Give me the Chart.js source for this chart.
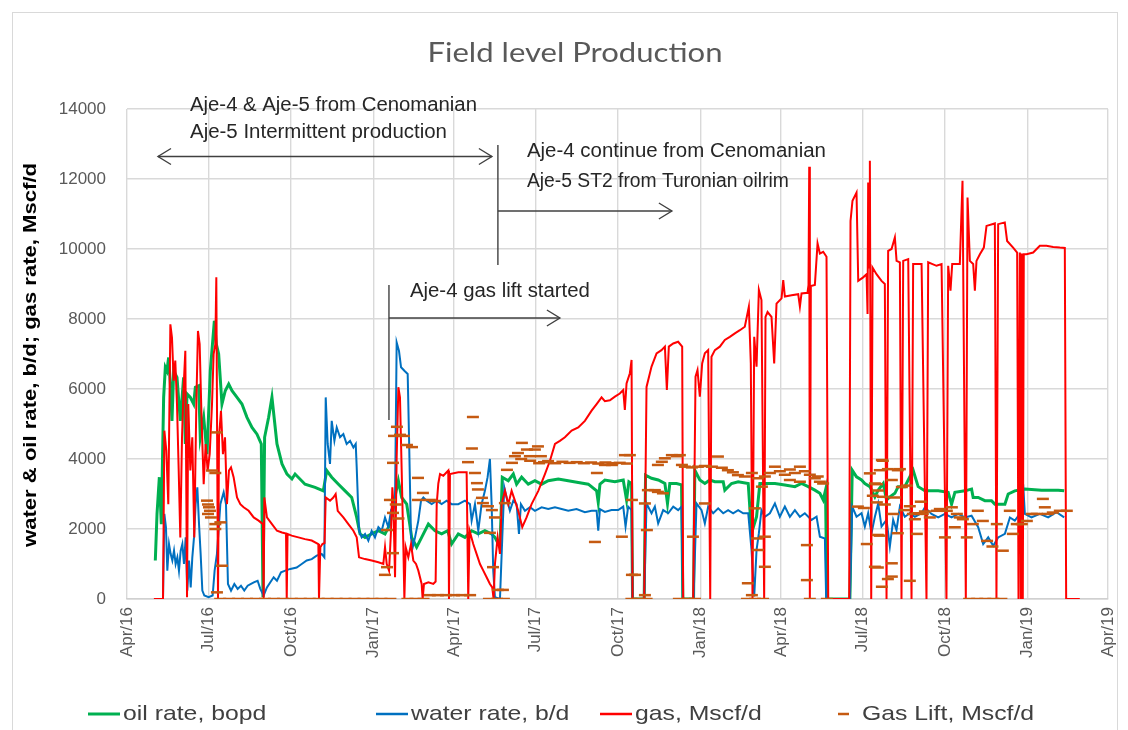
<!DOCTYPE html>
<html>
<head>
<meta charset="utf-8">
<title>Field level Production</title>
<script src="https://cdn.jsdelivr.net/npm/chart.js@4.4.1/dist/chart.umd.min.js"></script>
<style>
  html, body { margin: 0; padding: 0; background: #ffffff; }
  #wrap { position: relative; width: 1128px; height: 730px; }
</style>
</head>
<body>
<div id="wrap"><canvas id="prod" width="1128" height="730"></canvas></div>
<script>
// Days are counted from 1 Apr 2016 (day 0).
const tickDays   = [0, 91, 183, 275, 365, 456, 548, 640, 730, 821, 913, 1005, 1095];
const tickLabels = ['Apr/16', 'Jul/16', 'Oct/16', 'Jan/17', 'Apr/17', 'Jul/17', 'Oct/17',
                    'Jan/18', 'Apr/18', 'Jul/18', 'Oct/18', 'Jan/19', 'Apr/19'];
const yTicks = [0, 2000, 4000, 6000, 8000, 10000, 12000, 14000];

// Oil rate, bopd
const oilDays = [
  31.6, 33.5, 36.1, 38.3, 40.9, 42.8, 44.6, 46.5, 48.4, 50.2, 52.1, 55.8, 59.5, 63.2, 65.1, 67.0,
  70.7, 74.4, 76.3, 80.0, 81.8, 85.6, 89.3, 93.0, 97.5, 99.7, 102.3, 106.0, 109.7, 113.5, 117.2,
  122.8, 128.3, 133.9, 139.5, 145.1, 149.9, 151.8, 153.6, 158.1, 161.8, 167.4, 173.0, 178.6, 184.1,
  187.6, 198.7, 209.9, 219.2, 222.9, 228.5, 236.0, 243.4, 250.8, 256.4, 260.1, 265.7, 273.1, 280.6,
  288.0, 293.6, 297.3, 302.9, 306.6, 312.2, 317.8, 323.3, 328.9, 336.4, 343.8, 351.2, 358.0,
  362.3, 369.8, 377.2, 384.7, 392.1, 399.5, 407.0, 410.7, 416.3, 418.9, 425.6, 431.2, 434.9, 440.5,
  447.9, 455.3, 462.8, 470.2, 481.4, 492.5, 503.7, 514.9, 524.2, 526.0, 527.9,
  533.4, 544.6, 553.9, 557.6, 560.2, 563.2, 564.3, 577.3, 578.8, 585.5, 593.0, 600.4, 603.3, 605.9,
  613.4, 619.0, 620.4, 632.4, 633.8, 639.4, 645.0, 650.6, 656.2, 665.5, 667.3, 674.8, 682.2, 693.4,
  697.1, 702.7, 706.4, 712.0, 723.2, 734.3, 745.5, 752.9, 760.4, 767.8, 773.4, 777.1, 779.7, 781.2,
  806.9, 809.5, 814.3, 819.9, 823.6, 829.2, 834.8, 838.5, 844.1, 847.8, 851.5, 857.1, 860.8, 868.2,
  877.5, 883.1, 890.6, 905.5, 916.6, 920.4, 924.1, 935.2, 942.7, 944.5, 950.1, 957.6, 965.0, 968.7,
  979.9, 983.6, 991.0, 1002.2, 1020.8, 1039.4, 1046.1
];
const oilRate = [
  1100, 2430, 3480, 2140, 5760, 6620, 6520, 6900, 6140, 5090, 6520, 6330, 5090, 6330, 4430, 5860,
  5760, 5570, 6050, 6090, 4620, 5190, 4140, 6520, 7950, 7280, 7000, 5570, 5950, 6140, 5950,
  5760, 5570, 5190, 4900, 4710, 4430, 50, 4620, 5190, 5760, 4430, 3860, 3570, 3430,
  3570, 3280, 3190, 3090, 3670, 3480, 3280, 3090, 2900, 2330, 1860, 1760, 1860, 1950,
  1860, 2140, 2710, 3380, 2900, 2710, 1760, 1480, 1760, 2140, 1950, 1860, 1950,
  1570, 1860, 1760, 1950, 1860, 1950, 1860, 1760, 1480, 3480, 3380, 3570, 3280, 3480,
  3280, 3380, 3280, 3380, 3430, 3380, 3330, 3280, 3090, 2760, 3280,
  3400, 3350, 3400, 2830, 3350, 3300, 0, 0, 3540, 3450, 3400, 3300, 2730, 3300,
  3300, 3260, 0, 0, 3680, 3400, 3300, 3400, 3350, 3350, 3110, 3300, 3350, 3300,
  1880, 2350, 3300, 3300, 3300, 3260, 3210, 3300, 3210, 3110, 3020, 2830, 3110, 0,
  0, 3680, 3490, 3400, 3300, 3210, 2920, 3110, 3300, 2830, 2920, 3020, 3210, 3210,
  3680, 3210, 3090, 3090, 3050, 2710, 3050, 3090, 3140, 2900, 2900, 2810, 2810, 2710,
  2710, 3000, 3090, 3140, 3110, 3110, 3090
];

// Water rate, b/d
const waterDays = [
  40.2, 41.7, 43.5, 45.0, 46.9, 48.7, 50.6, 52.5, 54.3, 56.2, 58.0, 59.9, 61.8, 63.6, 65.5, 67.3,
  69.2, 71.1, 72.9, 74.8, 76.6, 78.5, 80.4, 82.2, 84.1, 86.3, 91.1, 95.6, 97.8, 100.4, 104.2, 107.9,
  110.5, 112.7, 116.1, 119.8, 123.5, 127.2, 130.9, 134.7, 138.4, 142.1, 145.8, 148.8, 152.5, 156.2,
  160.0, 163.7, 167.4, 171.9, 176.7, 182.3, 189.4, 195.0, 200.6, 206.2, 211.7, 217.3, 220.3, 221.8,
  224.0, 226.6, 228.5, 231.5, 234.1, 237.8, 241.5, 245.2, 249.0, 252.7, 255.3, 256.4, 259.0, 262.0,
  265.7, 269.4, 273.1, 276.8, 280.6, 284.3, 288.0, 291.7, 294.7, 297.3, 299.2, 301.0, 303.6, 305.9,
  309.6, 313.3, 314.8, 317.0, 318.9, 321.5, 325.2, 328.2, 330.8, 334.5, 340.1, 345.7, 351.2, 356.8,
  362.3, 369.8, 377.2, 382.8, 384.7, 388.4, 392.1, 395.8, 399.5, 402.5, 405.1, 407.0, 408.8, 410.7,
  416.3, 418.9, 421.1, 423.7, 427.4, 431.2, 434.9, 437.5, 439.7, 444.2, 449.8, 455.3, 462.8, 470.2,
  477.7, 485.1, 492.5, 501.8, 511.1, 518.6, 524.2, 526.0, 527.9,
  533.4, 540.8, 548.3, 553.9, 556.5, 559.4, 563.2, 564.3, 577.3, 579.9, 585.5, 589.2, 592.9, 598.5,
  604.1, 609.7, 615.2, 619.0, 620.4, 632.4, 635.7, 641.3, 645.0, 648.7, 654.3, 659.9, 665.5, 671.0,
  676.6, 682.2, 687.8, 693.4, 697.1, 700.1, 702.7, 705.3, 708.2, 712.0, 717.6, 723.2, 728.7, 734.3,
  739.9, 745.5, 751.1, 756.6, 764.1, 769.7, 773.4, 779.0, 780.4, 806.9, 809.5, 814.3, 819.9, 823.6,
  827.3, 831.0, 834.8, 838.5, 842.2, 847.8, 851.5, 855.2, 858.9, 862.7, 868.2, 873.8, 879.4, 886.8,
  890.6, 898.0, 905.5, 912.9, 920.4, 927.8, 935.2, 942.7, 950.1, 955.7, 961.3, 966.9, 972.4, 979.9,
  985.5, 991.0, 996.6, 1000.3, 1002.2, 1009.6, 1018.9, 1028.2, 1037.5, 1046.1
];
const waterRate = [
  50, 2430, 2050, 810, 1570, 1290, 1100, 1380, 1000, 1190, 810, 1380, 1570, 1000, 1760, 240,
  1100, 330, 1190, 1760, 2710, 3190, 2140, 1290, 240, 100, 50, 100, 810, 1290, 2710, 3050,
  2710, 430, 240, 430, 290, 380, 240, 380, 430, 480, 520, 290, 100, 330,
  480, 620, 520, 760, 810, 860, 900, 1000, 1100, 1140, 1240, 1290, 1190, 5760,
  4430, 3860, 5090, 4520, 4900, 4620, 4710, 4430, 4520, 4330, 4430, 3760, 1950, 1760,
  1860, 1670, 1950, 1760, 2050, 1950, 2330, 2050, 2520, 2430, 2900, 7330, 7090, 6620,
  6520, 6430, 4620, 1760, 1480, 1760, 2240, 2810, 2900, 2810, 2710, 2810, 2710, 2810,
  2710, 2710, 2810, 2710, 2240, 2710, 1950, 2710, 3090, 3480, 4000, 2710, 810, 50,
  0, 1760, 3190, 2900, 2520, 2810, 2710, 1860, 2710, 2520, 2620, 2520, 2620, 2570,
  2620, 2570, 2520, 2570, 2480, 2520, 2520, 1950, 2570,
  2490, 2540, 2540, 2640, 2070, 2640, 2540, 0, 0, 2730, 2450, 2640, 2160, 2540,
  2450, 2640, 2540, 2640, 0, 0, 2730, 2540, 2160, 2640, 2450, 2590, 2450, 2540,
  2450, 2540, 2450, 2450, 1400, 70, 1400, 1880, 2540, 2350, 2450, 2730, 2350, 2640,
  2350, 2540, 2350, 2450, 2260, 2350, 1780, 1730, 0, 0, 2640, 2350, 2450, 2070,
  2450, 1880, 2350, 2730, 2070, 2260, 1500, 2260, 1970, 2640, 2350, 2450, 2350, 2450,
  2620, 2430, 2330, 2430, 2330, 2430, 2330, 2380, 2050, 1570, 1760, 1520, 1760, 1860,
  2330, 2240, 2430, 3280, 2430, 2330, 2430, 2330, 2480, 2330
];

// Gas, Mscf/d
const gasDays = [
  30.0, 40.2, 41.7, 43.9, 46.1, 48.4, 50.2, 52.1, 53.9, 55.8, 57.7, 59.5, 61.4, 63.2, 65.1, 67.0,
  68.4, 70.7, 72.9, 75.1, 77.4, 79.2, 81.1, 83.3, 85.6, 87.8, 90.0, 92.3, 94.9, 96.7, 98.6, 99.7,
  100.8, 101.6, 102.7, 104.9, 107.1, 109.4, 111.6, 113.8, 116.1, 119.0, 122.8, 126.5, 130.2, 135.8,
  141.4, 146.9, 151.8, 152.5, 153.3, 156.2, 161.8, 167.4, 173.0, 177.5, 178.3, 179.2, 183.8, 191.3,
  198.7, 206.2, 213.6, 214.3, 215.8, 218.1, 220.5, 221.8, 226.6, 230.3, 232.9, 235.2, 241.5, 247.1,
  252.7, 256.4, 259.0, 265.7, 273.1, 280.6, 286.1, 288.0, 289.9, 292.5, 294.7, 296.2, 297.3, 299.2,
  301.0, 302.9, 304.7, 306.6, 308.5, 309.6, 311.1, 314.0, 317.0, 319.6, 322.6, 325.2, 328.9, 330.0,
  331.5, 336.4, 341.9, 344.5, 345.7, 347.5, 349.4, 353.1, 358.6, 359.4, 360.5, 369.8, 379.1, 380.9,
  382.4, 386.5, 390.2, 394.0, 397.7, 401.4, 405.1, 407.7, 409.2, 410.7, 413.7, 416.3, 418.1, 421.9,
  425.6, 429.3, 433.0, 436.7, 441.2, 446.0, 451.6, 459.1, 466.5, 472.1, 477.7, 483.2, 488.8, 496.3,
  503.7, 511.1, 518.6, 524.2, 529.7, 533.4, 539.0, 544.6, 550.1, 553.9, 555.7, 557.6, 561.3, 563.2,
  564.3, 577.3, 579.9, 585.5, 591.1, 596.6, 600.4, 602.6, 604.8, 609.7, 615.2, 619.7, 620.8, 632.0,
  634.6, 636.8, 639.4, 642.0, 645.0, 648.7, 651.0, 652.4, 656.2, 661.7, 667.3, 672.9, 678.5, 684.1,
  689.6, 694.1, 696.3, 698.2, 700.1, 702.7, 705.3, 708.2, 711.2, 712.7, 715.0, 719.4, 722.4, 725.0,
  730.6, 732.5, 734.3, 741.8, 749.2, 751.1, 752.9, 759.6, 760.7, 761.5, 762.2, 763.3, 767.8, 770.8,
  773.4, 777.1, 780.8, 782.7, 806.1, 807.6, 809.8, 814.3, 816.2, 821.7, 825.5, 826.6, 827.3, 828.4,
  829.2, 830.7, 832.2, 836.6, 842.2, 845.9, 847.8, 849.6, 853.4, 857.1, 859.0, 862.7, 864.5, 866.4,
  872.0, 875.7, 877.5, 886.9, 892.4, 894.3, 903.6, 909.2, 914.7, 916.6, 919.2, 921.1, 929.6, 932.6,
  936.3, 938.2, 940.8, 944.5, 946.4, 948.2, 952.0, 956.4, 959.4, 968.7, 970.5, 972.4, 979.8, 982.4,
  989.1, 993.6, 995.1, 996.6, 997.7, 998.8, 999.9, 1001.0, 1004.0, 1011.5, 1018.9, 1026.3, 1033.8,
  1041.2, 1046.8, 1048.3, 1063.5
];
const gasRate = [
  0, 0, 4810, 4240, 2710, 7850, 7470, 6240, 6810, 5570, 3670, 1760, 4620, 6050, 7090, 50,
  5570, 3670, 4620, 1760, 5570, 7660, 7280, 5090, 3280, 4430, 3670, 4140, 5570, 7000, 7280, 9190,
  3670, 0, 4620, 5380, 4140, 4620, 2710, 3670, 3760, 3480, 2900, 2710, 2620, 2520,
  2330, 2240, 2140, 0, 2900, 2330, 2140, 1950, 1900, 1870, 0, 1860, 1810, 1760,
  1710, 1670, 1570, 0, 1480, 1570, 1600, 2900, 2810, 2900, 3000, 2520, 2330, 2140,
  1950, 1760, 1190, 1140, 1100, 1050, 1000, 1480, 1000, 810, 1950, 3190, 2710, 620,
  4050, 6050, 5760, 3670, 1480, 0, 1480, 1190, 1570, 1100, 1000, 810, 430, 0,
  430, 480, 430, 500, 2710, 3300, 3570, 3520, 3670, 0, 3570, 3620, 3620, 0,
  1950, 1570, 1290, 1000, 810, 620, 430, 330, 0, 1000, 1760, 1290, 2710, 3090,
  2710, 3090, 2810, 2520, 2050, 2330, 2710, 3090, 3570, 3950, 4430, 4520, 4620, 4810,
  4900, 5090, 5380, 5570, 5760, 5650, 5680, 5780, 5870, 5970, 5400, 6160, 6450, 6830,
  0, 0, 6060, 6640, 7020, 7110, 7210, 5970, 7210, 7300, 7350, 7210, 0, 0,
  6350, 6540, 5780, 6730, 7020, 7110, 0, 6920, 7110, 7210, 7400, 7490, 7590, 7680,
  7780, 8350, 6730, 0, 7490, 6640, 8830, 8540, 0, 8060, 8200, 8060, 6730, 8440,
  8590, 9110, 8640, 8680, 8710, 8350, 8730, 8750, 8970, 12350, 0, 8940, 8970, 10160,
  9870, 9920, 9780, 0, 0, 10800, 11380, 11610, 9090, 9190, 9280, 8140, 11900, 9470,
  12520, 0, 9470, 9280, 9090, 9000, 0, 9950, 10000, 10330, 9660, 9620, 0, 9660,
  9710, 0, 9570, 9570, 0, 9620, 9520, 9570, 0, 9520, 8810, 9570, 9570, 11950,
  0, 11470, 9660, 9570, 8810, 9660, 9850, 10040, 10660, 10730, 0, 10710, 10760, 10230,
  10040, 9900, 0, 9900, 0, 9870, 0, 9850, 9850, 9900, 10090, 10090, 10060,
  10040, 10030, 0, 0
];

// Gas lift, Mscf/d (individual daily readings)
const liftDays = [
  89.3, 90.4, 91.5, 92.6, 90.4, 93.7, 94.9, 98.6, 100.4, 98.6, 104.2, 98.6, 106.0, 100.4,
  104, 114, 124, 134, 144, 154, 164, 174, 184, 194, 204, 214, 224, 234, 244, 254, 264, 274, 284, 294,
  301.3, 304.7, 298.0, 309.1, 312.5, 318.1, 296.9, 293.5, 300.0, 296.9, 303.0, 290.2, 296.9, 290.2,
  287.9, 324.8, 324.8, 330.3, 338.1, 343.7,
  313, 322, 331, 338, 347, 356, 365, 374, 383,
  380.6, 385.0, 386.1, 388.4, 390.6, 391.7, 396.2, 397.3, 402.9, 407.3, 410.7, 405.1, 408.5, 414.0,
  419.6, 404.0, 413.0, 420.7, 421.8, 424.1, 429.7, 433.0, 436.4, 440.8, 446.4, 449.7, 455.3, 458.7,
  462.0, 465.4, 470, 478, 486, 494, 502, 510, 518, 526, 534, 542, 550, 558, 524.5, 522.3, 450, 460, 440,
  533.4, 541.3, 555.8, 561.3, 563.6, 552.4, 563.6, 567.0, 578.1, 581.4, 589.2, 592.6, 598.2, 592.6,
  597.0, 600.4, 608.2, 613.8, 617.1, 619.4, 580.3, 578.1, 622.7, 630.5, 637.2, 645.0, 652.9, 659.6,
  664.0, 670.7, 676.3, 681.9, 689.7, 697.5, 704.2, 712.0, 631.7, 693.0, 704.2, 697.5, 645.0, 703.1,
  708.7, 700.8,
  563, 572, 580, 616, 625, 634, 692, 701, 710,
  717.6, 723.2, 728.7, 734.3, 739.9, 745.5, 751.1, 756.6, 762.2, 767.8, 773.4, 739.9, 751.1, 712.0,
  712.0, 758.9, 758.9, 762.2, 781.2, 771.0, 777.0,
  815.8, 822.5, 825.8, 829.2, 832.5, 834.8, 834.8, 837.0, 837.0, 838.1, 838.1, 838.1, 840.3, 840.3,
  842.6, 842.6, 843.7, 843.7, 845.9, 849.3, 849.3, 853.7, 853.7, 853.7, 854.9, 857.1, 860.4, 860.4,
  862.7, 864.9, 868.2, 870.5, 873.8, 873.8, 877.2, 879.4, 881.6, 882.8, 886.1, 888.3,
  890.6, 896.1, 904.0, 907.3, 913.0, 915.1, 920.7, 924.0, 926.3, 929.6, 933.0, 937.4, 944.1, 949.7,
  955.3, 960.0, 966.0, 970.9, 977.6, 985.4, 988.8, 993.2, 998.8, 1004.4, 1010.0, 1015.6, 1022.3,
  1024.5, 1027.8, 1033.4, 1041.2, 1049.0,
  940, 949, 958, 967, 976
];
const liftRate = [
  2810, 2700, 2620, 2520, 2430, 2330, 3670, 3600, 4760, 2140, 2190, 2000, 950, 190,
  0, 0, 0, 0, 0, 0, 0, 0, 0, 0, 0, 0, 0, 0, 0, 0, 0, 0, 0, 0,
  4920, 4690, 4660, 4660, 4400, 4340, 3890, 2830, 2700, 2460, 2300, 1970, 1310, 910,
  690, 3460, 2830, 3030, 2830, 2800,
  0, 0, 0, 110, 110, 110, 110, 110, 110,
  3910, 4300, 5200, 3600, 3310, 3130, 2890, 2740, 2650, 2540, 2330, 1890, 910, 260,
  260, 0, 0, 0, 2740, 3690, 3890, 4080, 4170, 4460, 4270, 4080, 4270, 4360,
  4080, 3910, 3940, 3880, 3920, 3890, 3910, 3880, 3900, 3870, 3900, 3880, 3890, 3870, 3600, 1630, 3950, 3880, 4000,
  3830, 3830, 4110, 4110, 2830, 1780, 690, 690, 110, 3110, 3110, 3060, 3020, 3830,
  3920, 4020, 4110, 4080, 4110, 3830, 1970, 2730, 3780, 3760, 3780, 3800, 3780, 4070,
  3750, 3680, 3620, 3540, 3500, 3600, 3450, 3500, 1780, 450, 1400, 110, 2730, 1730,
  3210, 2590,
  0, 0, 0, 0, 0, 0, 0, 0, 0,
  3600, 3780, 3650, 3550, 3700, 3600, 3780, 3650, 3550, 3450, 3350, 3400, 3350, 1780,
  920, 1540, 540, 0, 0, 3500, 3300,
  2640, 2600, 1570, 3590, 2950, 3300, 920, 3280, 2760, 3100, 1830, 900, 3680, 1810,
  3970, 350, 2920, 3950, 2700, 3710, 570, 3400, 1020, 640, 2430, 2900, 3680, 1880,
  3710, 3200, 2540, 3240, 2650, 520, 2430, 2280, 1860, 2450, 2780, 2430,
  2500, 2330, 2520, 2570, 1760, 2520, 2620, 2050, 2430, 2330, 2280, 1760, 2140, 2520,
  2230, 1660, 1500, 2140, 1380, 2520, 1860, 2140, 2140, 2230, 2430, 2430, 2860,
  2620, 2430, 2470, 2520, 2520,
  0, 0, 0, 0, 0
];

const toPoints = (xs, ys) => xs.map((x, i) => ({ x: x, y: ys[i] }));

const BASE_FONT = '"Liberation Sans", Arial, sans-serif';
Chart.defaults.font.family = BASE_FONT;

// Draws a single line of text with a horizontal stretch factor.
function stretchText(ctx, text, x, y, sx, font, color, align) {
  ctx.save();
  ctx.font = font;
  const width = ctx.measureText(text).width * sx;
  const left = align === 'center' ? x - width / 2 : x;
  ctx.translate(left, y);
  ctx.scale(sx, 1);
  ctx.fillStyle = color;
  ctx.textBaseline = 'middle';
  ctx.textAlign = 'left';
  ctx.fillText(text, 0, 0);
  ctx.restore();
}

// Draws a single line of text stretched or squeezed to a given width.
function fitText(ctx, text, x, y, width, font, color, align) {
  ctx.save();
  ctx.font = font;
  const sx = width / ctx.measureText(text).width;
  ctx.restore();
  stretchText(ctx, text, x, y, sx, font, color, align);
}

function chevron(ctx, x, y, dir) {
  ctx.beginPath();
  ctx.moveTo(x - dir * 13, y - 8);
  ctx.lineTo(x, y);
  ctx.lineTo(x - dir * 13, y + 8);
  ctx.stroke();
}

const decorations = {
  id: 'decorations',
  beforeDraw(chart) {
    const ctx = chart.ctx;
    ctx.save();
    ctx.fillStyle = '#ffffff';
    ctx.fillRect(0, 0, chart.width, chart.height);
    ctx.restore();
  },
  afterDraw(chart) {
    const ctx = chart.ctx;
    const xs = chart.scales.x, ys = chart.scales.y;
    const px = d => xs.getPixelForValue(d);
    const py = v => ys.getPixelForValue(v);

    ctx.save();
    // outer frame
    ctx.strokeStyle = '#d9d9d9';
    ctx.lineWidth = 1;
    ctx.strokeRect(12.5, 12.5, 1105, 800);

    // chart title
    fitText(ctx, 'Field level Production', 575, 53, 295, '27px Lato, "Liberation Sans", sans-serif', '#595959', 'center');

    // vertical axis title
    ctx.save();
    ctx.translate(31, 355);
    ctx.rotate(-Math.PI / 2);
    fitText(ctx, 'water & oil rate, b/d; gas rate, Mscf/d', 0, 0, 384, 'bold 18px ' + BASE_FONT, '#000000', 'center');
    ctx.restore();

    // annotations
    const noteFont = '20px ' + BASE_FONT;
    const noteColor = '#262626';
    fitText(ctx, 'Aje-4 & Aje-5 from Cenomanian', px(70.3), py(14114), 287, noteFont, noteColor);
    fitText(ctx, 'Aje-5 Intermittent production', px(70.3), py(13343), 257, noteFont, noteColor);
    fitText(ctx, 'Aje-4 continue from Cenomanian', px(446.4), py(12800), 299, noteFont, noteColor);
    fitText(ctx, 'Aje-5 ST2 from Turonian oilrim', px(446.4), py(11943), 262, noteFont, noteColor);
    fitText(ctx, 'Aje-4 gas lift started', px(315.8), py(8800), 180, noteFont, noteColor);

    ctx.strokeStyle = '#404040';
    ctx.lineWidth = 1.4;
    // period of both wells on Cenomanian
    const yA = py(12643), xA0 = px(34.6), xA1 = px(407.3);
    ctx.beginPath(); ctx.moveTo(xA0, yA); ctx.lineTo(xA1, yA); ctx.stroke();
    chevron(ctx, xA0, yA, -1);
    chevron(ctx, xA1, yA, 1);
    // sidetrack start
    const xB = px(414.0);
    ctx.beginPath(); ctx.moveTo(xB, py(12971)); ctx.lineTo(xB, py(9543)); ctx.stroke();
    const yB = py(11086), xB1 = px(608.2);
    ctx.beginPath(); ctx.moveTo(xB, yB); ctx.lineTo(xB1, yB); ctx.stroke();
    chevron(ctx, xB1, yB, 1);
    // gas lift start
    const xC = px(292.4);
    ctx.beginPath(); ctx.moveTo(xC, py(8971)); ctx.lineTo(xC, py(5114)); ctx.stroke();
    const yC = py(8029), xC1 = px(483.2);
    ctx.beginPath(); ctx.moveTo(xC, yC); ctx.lineTo(xC1, yC); ctx.stroke();
    chevron(ctx, xC1, yC, 1);

    // legend
    const ly = 714;
    const legFont = '21px ' + BASE_FONT;
    const legStretch = 1.18;
    const items = [
      { color: '#00b050', w: 3, x: 88, text: 'oil rate, bopd' },
      { color: '#0070c0', w: 2.5, x: 376, text: 'water rate, b/d' },
      { color: '#ff0000', w: 2.5, x: 600, text: 'gas, Mscf/d' },
    ];
    items.forEach(it => {
      ctx.strokeStyle = it.color;
      ctx.lineWidth = it.w;
      ctx.beginPath(); ctx.moveTo(it.x, ly); ctx.lineTo(it.x + 32, ly); ctx.stroke();
      stretchText(ctx, it.text, it.x + 35, ly, legStretch, legFont, '#404040');
    });
    ctx.strokeStyle = '#c55a11';
    ctx.lineWidth = 2.5;
    ctx.beginPath(); ctx.moveTo(838, ly); ctx.lineTo(849, ly); ctx.stroke();
    stretchText(ctx, 'Gas Lift, Mscf/d', 862, ly, legStretch, legFont, '#404040');
    ctx.restore();
  }
};

const gridStyle = { color: '#d9d9d9', lineWidth: 1.4, drawTicks: false };
const tickFont = { family: BASE_FONT, size: 17 };

new Chart(document.getElementById('prod'), {
  type: 'line',
  data: {
    datasets: [
      {
        label: 'Gas Lift, Mscf/d',
        data: toPoints(liftDays, liftRate),
        showLine: false,
        pointStyle: 'line',
        pointRadius: 6,
        pointBorderWidth: 2.5,
        borderColor: '#c55a11',
        pointBorderColor: '#c55a11',
        order: 0
      },
      {
        label: 'gas, Mscf/d',
        data: toPoints(gasDays, gasRate),
        borderColor: '#ff0000',
        borderWidth: 2,
        pointRadius: 0,
        tension: 0,
        order: 1
      },
      {
        label: 'water rate, b/d',
        data: toPoints(waterDays, waterRate),
        borderColor: '#0070c0',
        borderWidth: 2,
        pointRadius: 0,
        tension: 0,
        order: 2
      },
      {
        label: 'oil rate, bopd',
        data: toPoints(oilDays, oilRate),
        borderColor: '#00b050',
        borderWidth: 3,
        pointRadius: 0,
        tension: 0,
        order: 3
      }
    ]
  },
  options: {
    responsive: false,
    animation: false,
    layout: { padding: { left: 0, right: 20, top: 109, bottom: 0 } },
    plugins: {
      legend: { display: false },
      title: { display: false },
      tooltip: { enabled: false }
    },
    scales: {
      x: {
        type: 'linear',
        min: 0,
        max: 1095,
        afterBuildTicks: s => { s.ticks = tickDays.map(v => ({ value: v })); },
        afterFit: s => { s.height = 131; s.paddingLeft = 0; s.paddingRight = 0; },
        grid: gridStyle,
        border: { color: '#d0d0d0', width: 1.4 },
        ticks: {
          autoSkip: false,
          minRotation: 90,
          maxRotation: 90,
          padding: 8,
          color: '#595959',
          font: tickFont,
          callback: (v, i) => tickLabels[i]
        }
      },
      y: {
        min: 0,
        max: 14000,
        afterBuildTicks: s => { s.ticks = yTicks.map(v => ({ value: v })); },
        afterFit: s => { s.width = 127; s.paddingTop = 0; s.paddingBottom = 0; },
        grid: gridStyle,
        border: { display: false },
        ticks: {
          padding: 21,
          color: '#595959',
          font: tickFont,
          callback: v => String(v)
        }
      }
    }
  },
  plugins: [decorations]
});
</script>
</body>
</html>
